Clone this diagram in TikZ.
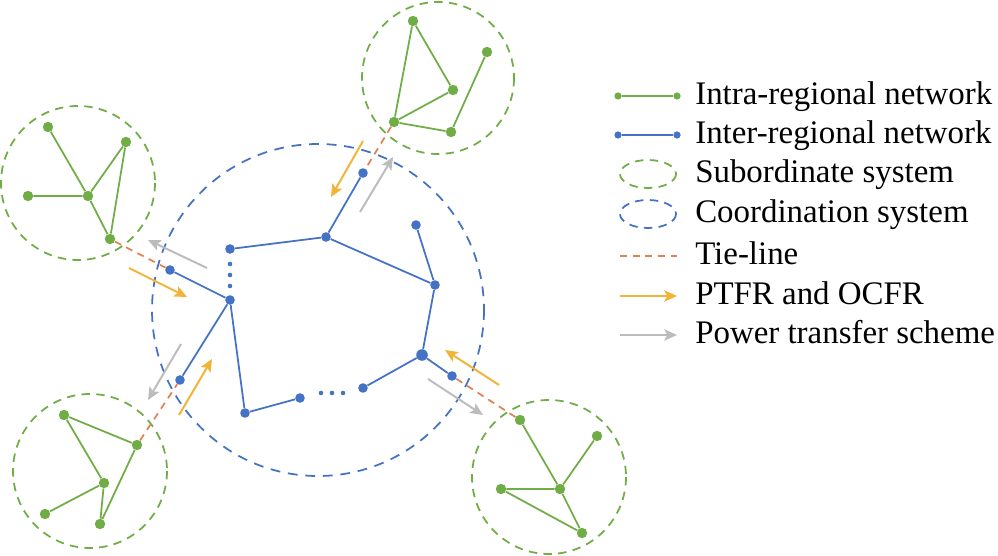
\documentclass[tikz,border=0pt]{standalone}
\usepackage{fontspec}
\setmainfont{Liberation Serif}
\usetikzlibrary{arrows.meta}
\definecolor{intra}{RGB}{112,173,71}
\definecolor{inter}{RGB}{68,114,196}
\definecolor{tie}{RGB}{225,128,80}
\definecolor{ptfr}{RGB}{242,180,56}
\definecolor{scheme}{RGB}{188,188,188}

\begin{document}
\begin{tikzpicture}[x=0.025cm,y=-0.025cm,
    gdot/.style={circle,fill=intra,inner sep=0pt,minimum size=0.26cm},
    bdot/.style={circle,fill=inter,inner sep=0pt,minimum size=0.24cm},
    ldot/.style={circle,inner sep=0pt,minimum size=0.18cm},
    gline/.style={draw=intra,line width=1.25pt},
    bline/.style={draw=inter,line width=1.25pt},
    subsys/.style={draw=intra,line width=1.25pt,dash pattern=on 6pt off 4.5pt},
    coord/.style={draw=inter,line width=1.25pt,dash pattern=on 7pt off 5.5pt},
    tieline/.style={draw=tie,line width=1.2pt,dash pattern=on 5pt off 4pt},
    ptfrarrow/.style={draw=ptfr,line width=1.4pt,-{Stealth[length=9pt,width=8pt,inset=2pt]}},
    schemearrow/.style={draw=scheme,line width=1.4pt,-{Stealth[length=9pt,width=8pt,inset=2pt]}},
    legtext/.style={anchor=base west,inner sep=0pt,font=\fontsize{23.4}{28}\selectfont}
    ]
\useasboundingbox (0,0) rectangle (998,556);

\draw[coord] (318,310) circle (166);
\draw[subsys] (438,78) circle (76);
\draw[subsys] (78,183) circle (77);
\draw[subsys] (90,471) circle (77);
\draw[subsys] (549,477) circle (77);

\node[bdot] (b1) at (363,173) {};
\node[bdot] (b2) at (326,237) {};
\node[bdot] (b3) at (230,249) {};
\node[bdot] (b4) at (230,300) {};
\node[bdot] (b5) at (245,413) {};
\node[bdot] (b6) at (300,398) {};
\node[bdot] (b7) at (363,388) {};
\node[bdot,minimum size=0.29cm] (b8) at (422,355) {};
\node[bdot] (b9) at (452,376) {};
\node[bdot] (b10) at (435,285) {};
\node[bdot] (b11) at (416,225) {};
\node[bdot] (b12) at (170,270) {};
\node[bdot] (b13) at (180,380) {};

\draw[bline] (b1) -- (b2) -- (b3);
\draw[bline] (b2) -- (b10) -- (b8) -- (b7);
\draw[bline] (b11) -- (b10);
\draw[bline] (b8) -- (b9);
\draw[bline] (b12) -- (b4) -- (b5) -- (b6);
\draw[bline] (b4) -- (b13);
\foreach \y in {264,275,286}
    \fill[inter] (230,\y) circle (2.3);
\foreach \x in {321,332,343}
    \fill[inter] (\x,393) circle (2.3);

\node[gdot] (t1) at (413,21) {};
\node[gdot] (t2) at (487,52) {};
\node[gdot] (t3) at (453,90) {};
\node[gdot] (t4) at (394,122) {};
\node[gdot] (t5) at (451,132) {};
\draw[gline] (t1) -- (t4) -- (t3) -- (t1);
\draw[gline] (t4) -- (t5) -- (t2);

\node[gdot] (l1) at (48,127) {};
\node[gdot] (l2) at (126,142) {};
\node[gdot] (l3) at (28,196) {};
\node[gdot] (l4) at (88,196) {};
\node[gdot] (l5) at (110,239) {};
\draw[gline] (l1) -- (l4) -- (l3);
\draw[gline] (l2) -- (l4) -- (l5) -- (l2);

\node[gdot] (d1) at (64,415) {};
\node[gdot] (d2) at (137,445) {};
\node[gdot] (d3) at (104,483) {};
\node[gdot] (d4) at (45,514) {};
\node[gdot] (d5) at (100,524) {};
\draw[gline] (d2) -- (d1) -- (d3) -- (d4);
\draw[gline] (d3) -- (d5) -- (d2);

\node[gdot] (r1) at (520,420) {};
\node[gdot] (r2) at (597,436) {};
\node[gdot] (r3) at (501,489) {};
\node[gdot] (r4) at (560,489) {};
\node[gdot] (r5) at (582,533) {};
\draw[gline] (r1) -- (r4) -- (r2);
\draw[gline] (r3) -- (r4) -- (r5) -- (r3);

\draw[tieline] (t4) -- (b1);
\draw[tieline] (l5) -- (b12);
\draw[tieline] (d2) -- (b13);
\draw[tieline] (r1) -- (b9);

\coordinate (pt1s) at (363,141);
\coordinate (pt1e) at (331,197);
\coordinate (sc1s) at (360,212);
\coordinate (sc1e) at (393,157);
\coordinate (pt2s) at (129,268);
\coordinate (pt2e) at (187,297);
\coordinate (sc2s) at (207,268);
\coordinate (sc2e) at (148,240);
\coordinate (pt3s) at (179,415);
\coordinate (pt3e) at (212,359);
\coordinate (sc3s) at (181,344);
\coordinate (sc3e) at (148,400);
\coordinate (pt4s) at (499,385);
\coordinate (pt4e) at (445,350);
\coordinate (sc4s) at (428,379);
\coordinate (sc4e) at (483,415);
\draw[ptfrarrow] (pt1s) -- (pt1e);
\draw[schemearrow] (sc1s) -- (sc1e);
\draw[ptfrarrow] (pt2s) -- (pt2e);
\draw[schemearrow] (sc2s) -- (sc2e);
\draw[ptfrarrow] (pt3s) -- (pt3e);
\draw[schemearrow] (sc3s) -- (sc3e);
\draw[ptfrarrow] (pt4s) -- (pt4e);
\draw[schemearrow] (sc4s) -- (sc4e);

\node[ldot,fill=intra] (lg1a) at (618,96) {};
\node[ldot,fill=intra] (lg1b) at (677,96) {};
\draw[gline] (lg1a) -- (lg1b);
\node[ldot,fill=inter] (lg2a) at (618,135) {};
\node[ldot,fill=inter] (lg2b) at (677,135) {};
\draw[bline] (lg2a) -- (lg2b);
\draw[subsys] (648,174) ellipse [x radius=28,y radius=14];
\draw[coord,dash pattern=on 6pt off 4.5pt] (648,214) ellipse [x radius=28,y radius=14];
\coordinate (lg5a) at (620,256);
\coordinate (lg5b) at (677,256);
\draw[tieline] (lg5a) -- (lg5b);
\coordinate (lg6a) at (620,296);
\coordinate (lg6b) at (677,296);
\draw[ptfrarrow] (lg6a) -- (lg6b);
\coordinate (lg7a) at (620,335);
\coordinate (lg7b) at (677,335);
\draw[schemearrow] (lg7a) -- (lg7b);

\node[legtext] (txt1) at (695,105) {Intra-regional network};
\node[legtext] (txt2) at (695,144) {Inter-regional network};
\node[legtext] (txt3) at (695,183) {Subordinate system};
\node[legtext] (txt4) at (695,223) {Coordination system};
\node[legtext] (txt5) at (695,265) {Tie-line};
\node[legtext] (txt6) at (695,305) {PTFR and OCFR};
\node[legtext] (txt7) at (695,344) {Power transfer scheme};
\end{tikzpicture}
\end{document}
